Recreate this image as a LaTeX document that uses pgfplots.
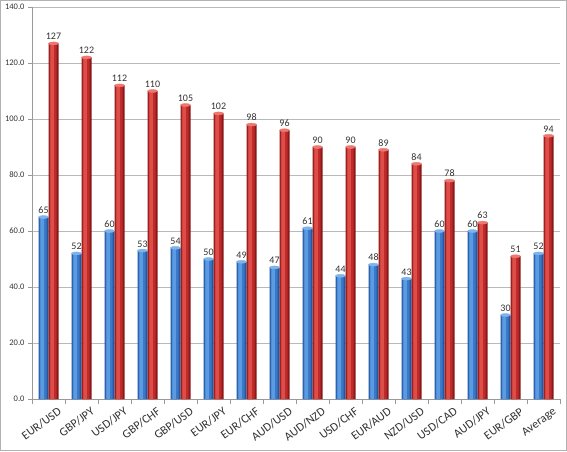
\documentclass[border=0pt]{standalone}
\usepackage{pgfplots}
\pgfplotsset{compat=1.18}
\usepackage{fontspec}
\setmainfont{Carlito}
\definecolor{bedge}{RGB}{38,86,160}
\definecolor{bmain}{RGB}{58,120,200}
\definecolor{bmid}{RGB}{90,155,225}
\definecolor{bcap}{RGB}{125,180,235}
\definecolor{redge}{RGB}{140,25,25}
\definecolor{rmain}{RGB}{192,42,42}
\definecolor{rmid}{RGB}{222,78,72}
\definecolor{rcap}{RGB}{238,120,112}
\definecolor{gridc}{RGB}{185,185,185}
\definecolor{txt}{RGB}{50,50,50}
\pgfplotstableread{
x b r
0 65 127
1 52 122
2 60 112
3 53 110
4 54 105
5 50 102
6 49 98
7 47 96
8 61 90
9 44 90
10 48 89
11 43 84
12 60 78
13 60 63
14 30 51
15 52 94
}\data
\begin{document}
\begin{tikzpicture}[x=1pt,y=1pt]
\draw[gray!60, line width=1.2pt] (0.6,0.6) rectangle (566.4,450.4);
\useasboundingbox (0,0) rectangle (567,451);
\begin{axis}[
  at={(32pt,52pt)}, anchor=south west, scale only axis,
  width=528pt, height=392pt,
  ymin=0, ymax=140, ytick={0,20,...,140},
  xmin=-0.5, xmax=15.5,
  axis x line=bottom, axis y line=left,
  axis line style={-, draw=gray!80, line width=0.8pt},
  ymajorgrids, grid style={gridc, line width=0.8pt},
  tick align=outside, major tick length=4pt, minor tick length=5pt,
  tick style={draw=gray!80, line width=0.8pt},
  major x tick style={draw=none},
  yticklabel={\pgfmathprintnumber[fixed, fixed zerofill, precision=1]{\tick}},
  /pgf/number format/assume math mode=true,
  yticklabel style={font=\fontsize{8.5}{10}\selectfont, text=txt},
  xtick={0,...,15},
  minor xtick={-0.5,0.5,...,15.5},
  xticklabels={EUR/USD,GBP/JPY,USD/JPY,GBP/CHF,GBP/USD,EUR/JPY,EUR/CHF,AUD/USD,AUD/NZD,USD/CHF,EUR/AUD,NZD/USD,USD/CAD,AUD/JPY,EUR/GBP,Average},
  xticklabel style={font=\fontsize{12}{13}\selectfont, text=txt, rotate=36, anchor=north east, inner sep=0pt, xshift=5pt, yshift=-8pt},
  ybar=0pt, bar width=10pt,
  clip=false,
]
% blue cylinders
\addplot[draw=none, fill=bedge, bar shift=-5pt,
  nodes near coords, every node near coord/.append style={font=\fontsize{10}{12}\selectfont, text=txt}]
  table[x=x,y=b]{\data};
\addplot[draw=none, fill=bmain, bar shift=-5.5pt, bar width=7pt, forget plot] table[x=x,y=b]{\data};
\addplot[draw=none, fill=bmid, bar shift=-6.3pt, bar width=3.5pt, forget plot] table[x=x,y=b]{\data};
\addplot[sharp plot, draw=none, mark=*, mark size=5pt, forget plot,
  mark options={draw=bcap, fill=bcap, yscale=0.3, xshift=-5pt}] table[x=x,y=b]{\data};
% red cylinders
\addplot[draw=none, fill=redge, bar shift=5pt,
  nodes near coords, every node near coord/.append style={font=\fontsize{10}{12}\selectfont, text=txt}]
  table[x=x,y=r]{\data};
\addplot[draw=none, fill=rmain, bar shift=4.5pt, bar width=7pt, forget plot] table[x=x,y=r]{\data};
\addplot[draw=none, fill=rmid, bar shift=3.7pt, bar width=3.5pt, forget plot] table[x=x,y=r]{\data};
\addplot[sharp plot, draw=none, mark=*, mark size=5pt, forget plot,
  mark options={draw=rcap, fill=rcap, yscale=0.3, xshift=5pt}] table[x=x,y=r]{\data};
\end{axis}
\end{tikzpicture}
\end{document}
